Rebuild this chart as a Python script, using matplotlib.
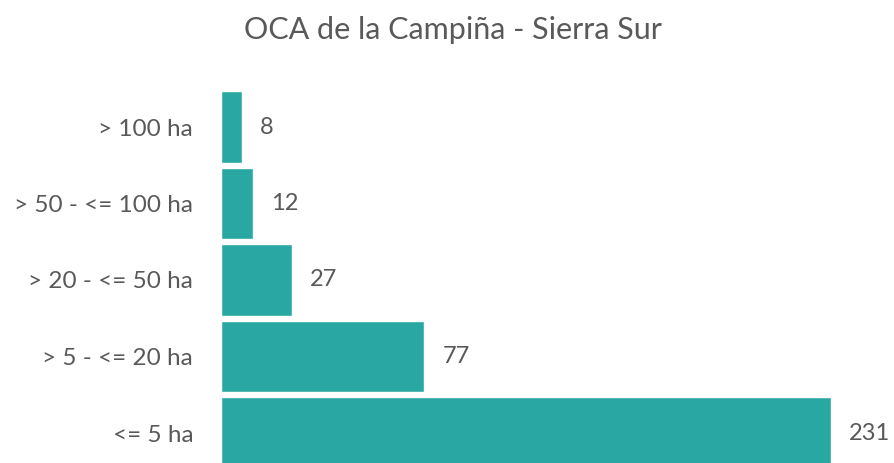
import matplotlib
matplotlib.use("Agg")
import matplotlib.pyplot as plt

categories = ["> 100 ha", "> 50 - <= 100 ha", "> 20 - <= 50 ha", "> 5 - <= 20 ha", "<= 5 ha"]
values = [8, 12, 27, 77, 231]
title = "OCA de la Campiña - Sierra Sur"

W, H = 895, 463
fig = plt.figure(figsize=(W / 100, H / 100), dpi=100)
plt.rcParams['font.family'] = ['Lato', 'DejaVu Sans']
gray = "#595959"
teal = "#29A8A3"

ax = fig.add_axes([221 / W, 0, (W - 221) / W, (H - 80) / H])
pos = list(range(len(categories)))
ax.barh(pos, values, height=0.94, color=teal, edgecolor="white", linewidth=1)
ax.set_xlim(0, (W - 221) / ((831 - 221) / 231))
ax.set_ylim(4 + (463 - 433) / 76.5, -(127 - 80) / 76.5)
ax.set_yticks(pos)
ax.set_yticklabels(categories, fontsize=17.5, color=gray)
ax.tick_params(axis="y", length=0, pad=20)
ax.set_xticks([])
for s in ax.spines.values():
    s.set_visible(False)
for p, v in zip(pos, values):
    ax.annotate(str(v), (v, p), xytext=(13, 0), textcoords="offset points",
                ha="left", va="center", fontsize=17, color=gray)

fig.text(453 / W, 1 - 30 / H, title, ha="center", va="center", fontsize=22, color=gray)
fig.savefig("out.png", dpi=100)
